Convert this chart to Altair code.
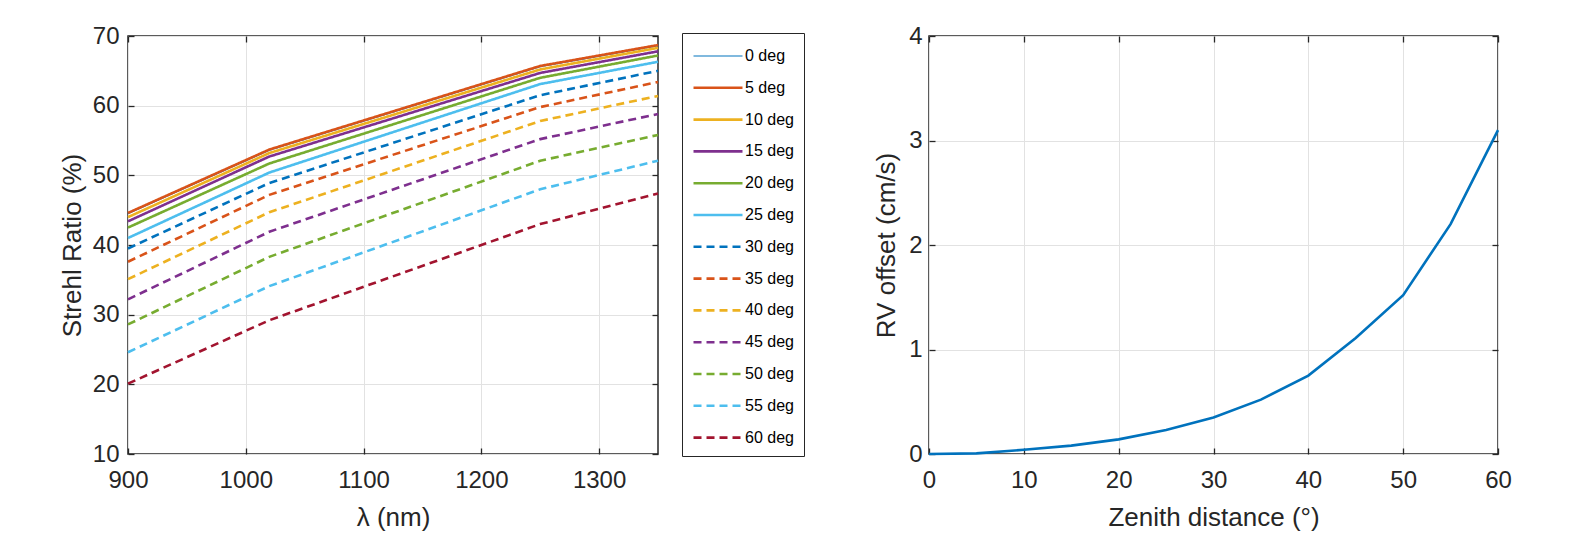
import altair as alt
import pandas as pd

# ---------------- data ----------------
wavelengths = [900, 1020, 1250, 1350]
zenith_labels = ["0 deg", "5 deg", "10 deg", "15 deg", "20 deg", "25 deg", "30 deg",
                 "35 deg", "40 deg", "45 deg", "50 deg", "55 deg", "60 deg"]
sr_0 = [44.5, 53.6, 65.6, 68.6]
sr_5 = [44.6, 53.7, 65.7, 68.7]
sr_10 = [44.0, 53.2, 65.2, 68.3]
sr_15 = [43.4, 52.7, 64.7, 67.8]
sr_20 = [42.5, 51.7, 64.0, 67.2]
sr_25 = [41.0, 50.4, 63.1, 66.3]
sr_30 = [39.5, 48.9, 61.5, 65.0]
sr_35 = [37.6, 47.2, 59.8, 63.4]
sr_40 = [35.1, 44.7, 57.8, 61.4]
sr_45 = [32.2, 41.9, 55.2, 58.8]
sr_50 = [28.6, 38.3, 52.1, 55.8]
sr_55 = [24.6, 34.1, 48.0, 52.1]
sr_60 = [20.1, 29.2, 43.0, 47.4]
strehl_series = [sr_0, sr_5, sr_10, sr_15, sr_20, sr_25, sr_30,
                 sr_35, sr_40, sr_45, sr_50, sr_55, sr_60]

zenith_deg = [0, 5, 10, 15, 20, 25, 30, 35, 40, 45, 50, 55, 60]
rv_offset = [0.0, 0.006, 0.04, 0.08, 0.14, 0.23, 0.35, 0.52, 0.75, 1.11, 1.52, 2.2, 3.1]

x_ticks_left = [900, 1000, 1100, 1200, 1300]
y_ticks_left = [10, 20, 30, 40, 50, 60, 70]
x_ticks_right = [0, 10, 20, 30, 40, 50, 60]
y_ticks_right = [0, 1, 2, 3, 4]

# ---------------- styles ----------------
series_colors = ["#0072BD", "#D95319", "#EDB120", "#7E2F8E", "#77AC30", "#4DBEEE",
                 "#0072BD", "#D95319", "#EDB120", "#7E2F8E", "#77AC30", "#4DBEEE", "#A2142F"]
series_dash = [[1, 0]] * 6 + [[8, 5]] * 7
series_width = [1.2] + [2.6] * 12

FONT = "Liberation Sans"
INK = "#262626"

rows = []
for lab, vals in zip(zenith_labels, strehl_series):
    for w, v in zip(wavelengths, vals):
        rows.append({"wl": w, "sr": v, "label": lab})
df_left = pd.DataFrame(rows)
df_right = pd.DataFrame({"z": zenith_deg, "rv": rv_offset})

AX = dict(labelFont=FONT, titleFont=FONT, labelFontSize=24, titleFontSize=26,
          labelColor=INK, titleColor=INK, titleFontWeight="normal",
          gridColor="#e2e2e2", gridWidth=1, tickColor=INK, tickWidth=1.3,
          domain=False, labelFlush=False, labelOverlap=False)


def main_x(values, title):
    return alt.Axis(orient="bottom", values=values, title=title, grid=True, ticks=True,
                    offset=-6, tickSize=6, labelPadding=14, titlePadding=12, format="d", **AX)


def main_y(values, title, lpad, tpad):
    return alt.Axis(orient="left", values=values, title=title, grid=True, ticks=True,
                    offset=-6, tickSize=6, labelPadding=lpad, titlePadding=tpad, format="d", **AX)


def ghost_x(values):
    return alt.Axis(orient="top", values=values, title=None, grid=False, labels=False,
                    ticks=True, offset=-6, tickSize=6, domain=False, tickColor=INK, tickWidth=1.3)


def ghost_y(values):
    return alt.Axis(orient="right", values=values, title=None, grid=False, labels=False,
                    ticks=True, offset=-6, tickSize=6, domain=False, tickColor=INK, tickWidth=1.3)


# ---------------- left panel ----------------
xs_l = alt.Scale(domain=[900, 1350], nice=False, zero=False)
ys_l = alt.Scale(domain=[10, 70], nice=False, zero=False)

leg = alt.Legend(title=None, orient="none", legendX=554, legendY=-3,
                 symbolType="M-2,0H2", symbolSize=600, symbolOffset=12,
                 labelFont=FONT, labelFontSize=16,
                 labelColor="#000000", strokeColor=INK, fillColor="white", padding=10,
                 rowPadding=9.8, labelOffset=13)

lines_left = alt.Chart(df_left).mark_line(strokeCap="butt").encode(
    x=alt.X("wl:Q", scale=xs_l, axis=main_x(x_ticks_left, "λ (nm)")),
    y=alt.Y("sr:Q", scale=ys_l, axis=main_y(y_ticks_left, "Strehl Ratio (%)", 9, 7)),
    color=alt.Color("label:N", sort=zenith_labels,
                    scale=alt.Scale(domain=zenith_labels, range=series_colors), legend=leg),
    strokeDash=alt.StrokeDash("label:N", sort=zenith_labels,
                              scale=alt.Scale(domain=zenith_labels, range=series_dash), legend=leg),
    strokeWidth=alt.StrokeWidth("label:N", sort=zenith_labels,
                                scale=alt.Scale(type="ordinal", domain=zenith_labels,
                                                range=series_width), legend=leg),
)

ghost_left = alt.Chart(df_left).mark_line(opacity=0).encode(
    x=alt.X("wl:Q", scale=xs_l, axis=ghost_x(x_ticks_left)),
    y=alt.Y("sr:Q", scale=ys_l, axis=ghost_y(y_ticks_left)),
    detail="label:N",
)

left = alt.layer(lines_left, ghost_left).properties(width=530, height=418)

# ---------------- right panel ----------------
xs_r = alt.Scale(domain=[0, 60], nice=False, zero=False)
ys_r = alt.Scale(domain=[0, 4], nice=False, zero=False)

line_right = alt.Chart(df_right).mark_line(color="#0072BD", strokeWidth=2.6).encode(
    x=alt.X("z:Q", scale=xs_r, axis=main_x(x_ticks_right, "Zenith distance (°)")),
    y=alt.Y("rv:Q", scale=ys_r, axis=main_y(y_ticks_right, "RV offset (cm/s)", 7, 9)),
)
ghost_right = alt.Chart(df_right).mark_line(opacity=0).encode(
    x=alt.X("z:Q", scale=xs_r, axis=ghost_x(x_ticks_right)),
    y=alt.Y("rv:Q", scale=ys_r, axis=ghost_y(y_ticks_right)),
)
right = alt.layer(line_right, ghost_right).properties(width=569, height=418)

chart = alt.hconcat(left, right, spacing=66).properties(
    padding={"left": 50, "top": 15, "right": 5, "bottom": 5},
    background="white",
).configure_view(stroke=INK, strokeWidth=1.5).resolve_scale(
    color="independent", strokeDash="independent", strokeWidth="independent"
)

chart.save("out.html", embed_options={"renderer": "svg", "actions": False})
